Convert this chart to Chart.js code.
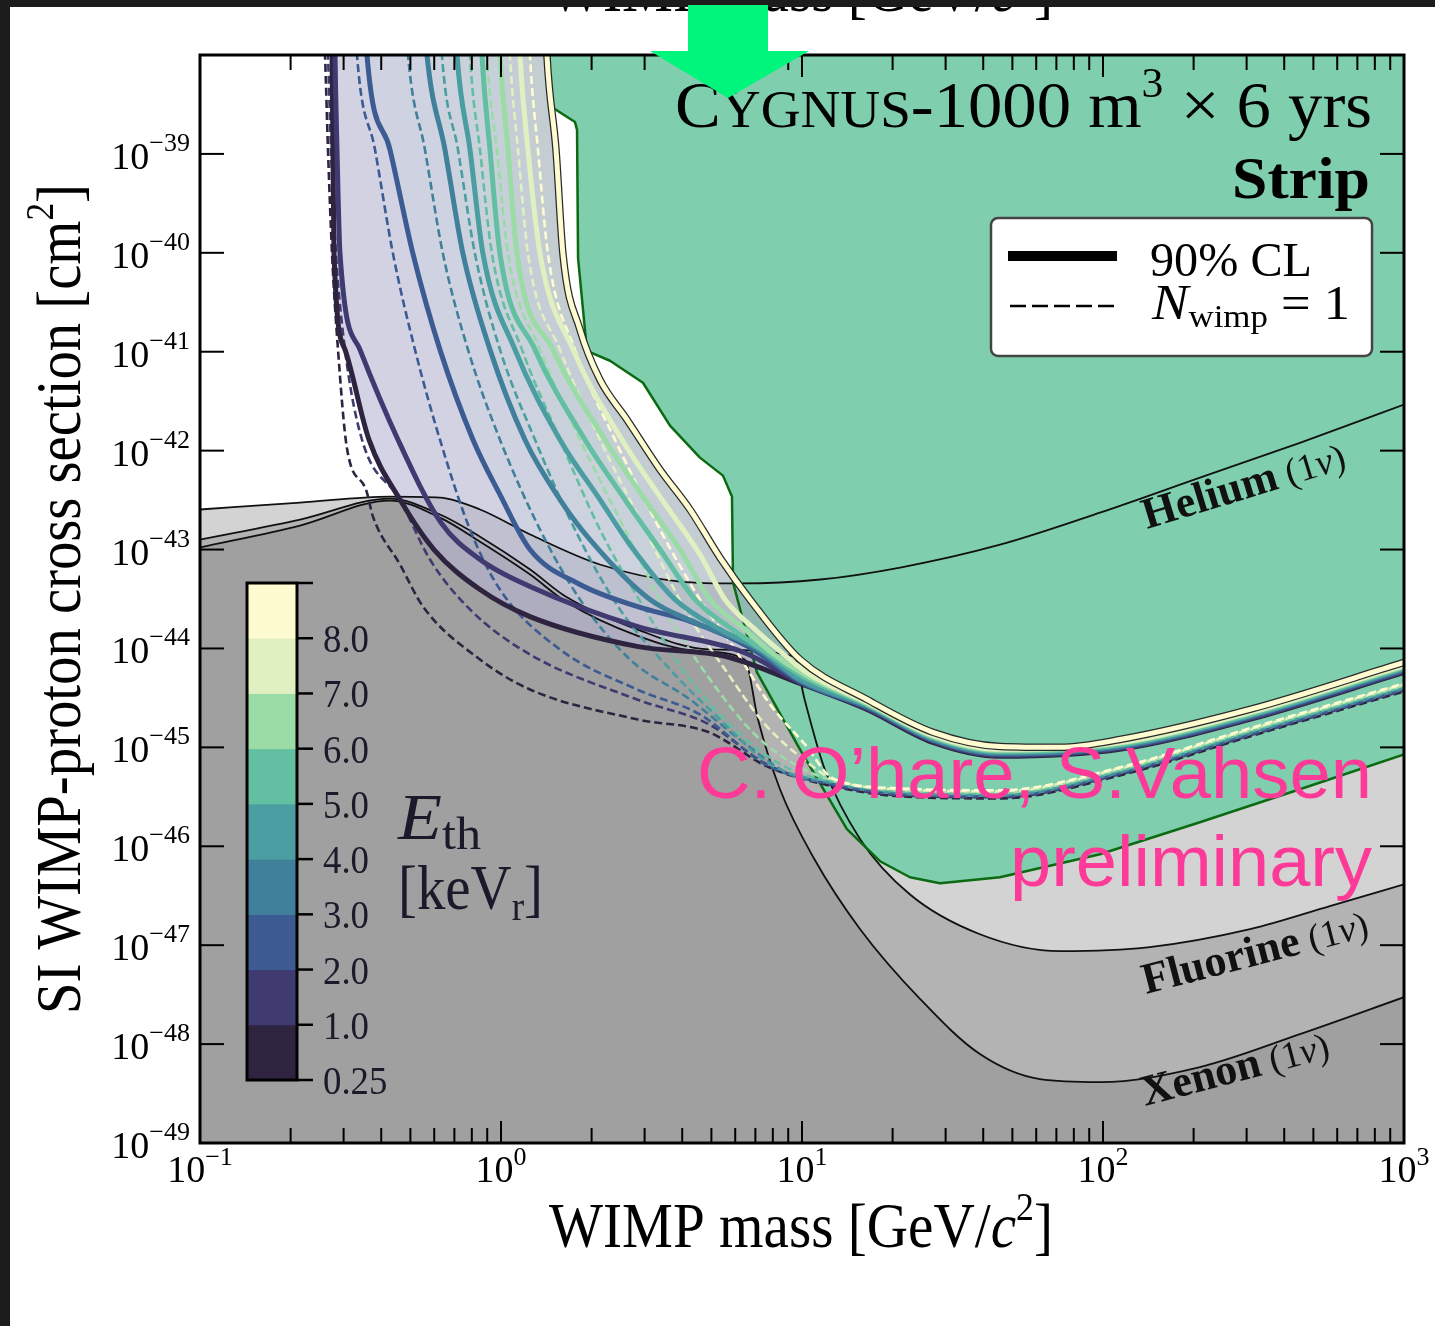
<!DOCTYPE html>
<html>
<head>
<meta charset="utf-8">
<title>CYGNUS-1000 SI WIMP sensitivity</title>
<script src="https://cdn.jsdelivr.net/npm/chart.js@4.4.0/dist/chart.umd.min.js"></script>
<style>
  html, body { margin: 0; padding: 0; background: #fff; }
  #wrap { position: relative; width: 1435px; height: 1326px; overflow: hidden; }
  canvas { display: block; }
</style>
</head>
<body>
<div id="wrap"><canvas id="limitChart" width="1435" height="1326"></canvas></div>
<script>
// ---- values: [WIMP mass GeV/c^2, cross section cm^2] ----
const heliumFloor = [[0.1,2.54e-43],[0.215,2.98e-43],[0.428,3.43e-43],[0.627,3.35e-43],[0.852,2.54e-43],[1.25,1.42e-43],[2.13,7.06e-44],[3.93,4.75e-44],[6.22,4.54e-44],[11.5,4.98e-44],[21.2,6.58e-44],[45.5,1.12e-43],[97.7,2.36e-43],[210,5.34e-43],[451,1.20e-42],[1000,2.92e-42]];
const fluorineFloor = [[0.1,1.26e-43],[0.215,2.01e-43],[0.428,3.27e-43],[0.627,2.26e-43],[0.852,1.35e-43],[1.25,6.28e-44],[1.64,3.35e-44],[2.83,1.56e-44],[4.91,9.77e-45],[9.40,8.30e-45],[10.2,3.05e-45],[11.9,6.0e-46],[15.6,1.18e-46],[22.8,3.27e-47],[39.0,1.29e-47],[71.9,8.70e-48],[143,9.55e-48],[308,1.45e-47],[567,2.48e-47],[1000,4.13e-47]];
const xenonFloor = [[0.1,1.05e-43],[0.215,1.75e-43],[0.428,3.13e-43],[0.627,2.10e-43],[0.852,1.20e-43],[1.25,5.59e-44],[1.64,2.98e-44],[2.83,1.35e-44],[4.58,9.33e-45],[6.46,7.74e-45],[7.14,1.92e-45],[8.45,3.77e-46],[11.0,7.39e-47],[15.6,1.45e-47],[24.7,2.85e-48],[39.0,7.93e-49],[61.7,4.43e-49],[97.7,4.13e-49],[210,5.86e-49],[451,1.26e-48],[1000,2.98e-48]];
const cygnusRegion = [[1.435,1.0e-38],[1.455,3.05e-39],[1.761,2.10e-39],[1.789,1.75e-39],[1.803,8.90e-41],[1.930,1.02e-41],[2.302,8.11e-42],[2.962,4.86e-42],[3.643,1.79e-42],[4.581,8.50e-43],[5.463,5.59e-43],[5.852,3.43e-43],[5.90,4.64e-44],[7.085,5.72e-45],[9.845,9.55e-46],[14.10,1.49e-46],[18.16,7.06e-47],[22.84,4.86e-47],[28.73,4.23e-47],[45.46,4.86e-47],[97.68,8.30e-47],[209.9,1.75e-46],[451,3.77e-46],[1000,8.50e-46]];

// 90% CL limits, one per threshold (first point is the off-scale rise above the plot)
const cl025 = [[0.25,1e-33],[0.2723,1e-37],[0.2746,1e-38],[0.2766,1.10e-39],[0.2787,9.77e-41],[0.3032,1.05e-41],[0.3642,1.29e-42],[0.4618,3.20e-43],[0.5987,1.00e-43],[0.8516,3.94e-44],[1.248,2.10e-44],[2.829,1.05e-44],[5.590,8.30e-45],[9.845,4.43e-45],[16.44,2.42e-45],[27.23,1.12e-45],[45.46,8.11e-46],[113.8,9.55e-46],[307.6,1.92e-45],[1000,5.72e-45]];
const cl1 = [[0.25,1e-33],[0.2787,1e-37],[0.2809,1e-38],[0.2852,1.10e-39],[0.2918,9.77e-41],[0.3400,1.05e-41],[0.4548,1.29e-42],[0.6317,1.87e-43],[0.8516,7.93e-44],[1.248,4.23e-44],[2.829,1.67e-44],[6.415,9.11e-45],[9.845,4.54e-45],[16.44,2.48e-45],[27.23,1.15e-45],[45.46,8.30e-46],[113.8,9.77e-46],[307.6,1.96e-45],[1000,5.86e-45]];
const cl2 = [[0.25,1e-33],[0.3453,1e-37],[0.3587,1e-38],[0.4278,1.10e-39],[0.5100,9.77e-41],[0.6269,1.05e-41],[0.8071,1.29e-42],[0.9922,3.59e-43],[1.248,1.00e-43],[1.830,4.43e-44],[2.829,2.66e-44],[4.277,1.87e-44],[6.716,1.02e-44],[9.845,4.64e-45],[16.44,2.54e-45],[27.23,1.18e-45],[45.46,8.50e-46],[113.8,1.00e-45],[307.6,2.01e-45],[1000,6.00e-45]];
const cl3 = [[0.25,1e-33],[0.5379,1e-37],[0.5676,1e-38],[0.6514,1.10e-39],[0.7477,9.77e-41],[0.9192,1.05e-41],[1.201,1.29e-42],[1.570,3.20e-43],[1.975,1.26e-43],[3.125,3.13e-44],[4.581,1.75e-44],[6.978,1.02e-44],[9.845,4.75e-45],[16.44,2.60e-45],[27.23,1.20e-45],[45.46,8.70e-46],[113.8,1.02e-45],[307.6,2.06e-45],[1000,6.14e-45]];
const cl4 = [[0.25,1e-33],[0.6873,1e-37],[0.7143,1e-38],[0.7889,1.10e-39],[0.8712,9.77e-41],[1.113,1.05e-41],[1.570,1.29e-42],[2.132,3.20e-43],[2.682,1.12e-43],[3.784,3.13e-44],[5.339,1.56e-44],[7.252,9.77e-45],[9.845,4.86e-45],[16.44,2.66e-45],[27.23,1.23e-45],[45.46,8.90e-46],[113.8,1.05e-45],[307.6,2.10e-45],[1000,6.28e-45]];
const cl5 = [[0.25,1e-33],[0.8386,1e-37],[0.8646,1e-38],[0.9192,1.10e-39],[0.9922,9.77e-41],[1.297,1.05e-41],[1.901,1.29e-42],[2.582,3.20e-43],[3.375,1.00e-43],[4.410,3.13e-44],[5.990,1.49e-44],[7.535,9.33e-45],[10.07,5.21e-45],[16.44,2.72e-45],[27.23,1.26e-45],[45.46,9.11e-46],[113.8,1.07e-45],[307.6,2.15e-45],[1000,6.43e-45]];
const cl6 = [[0.25,1e-33],[0.9623,1e-37],[0.9922,1e-38],[1.055,1.10e-39],[1.130,9.77e-41],[1.488,1.05e-41],[2.215,1.29e-42],[3.009,3.20e-43],[3.932,1.00e-43],[4.947,3.13e-44],[6.464,1.56e-44],[7.829,9.33e-45],[10.31,5.34e-45],[16.44,2.78e-45],[27.23,1.29e-45],[45.46,9.33e-46],[113.8,1.10e-45],[307.6,2.21e-45],[1000,6.58e-45]];
const cl7 = [[0.25,1e-33],[1.121,1e-37],[1.156,1e-38],[1.229,1.10e-39],[1.348,9.77e-41],[1.735,1.05e-41],[2.523,1.29e-42],[3.427,3.20e-43],[4.581,8.90e-44],[5.548,3.13e-44],[6.978,1.56e-44],[8.320,9.77e-45],[10.47,5.59e-45],[16.44,2.85e-45],[27.23,1.32e-45],[45.46,9.55e-46],[113.8,1.12e-45],[307.6,2.26e-45],[1000,6.73e-45]];
const cl8 = [[0.25,1e-33],[1.379,1e-37],[1.421,1e-38],[1.523,1.10e-39],[1.606,9.77e-41],[1.830,1.67e-41],[2.132,5.21e-42],[2.621,2.06e-42],[3.375,6.43e-43],[4.245,2.54e-43],[5.339,8.30e-44],[6.716,3.13e-44],[9.845,7.74e-45],[16.44,3.05e-45],[27.23,1.42e-45],[45.46,1.02e-45],[71.93,1.00e-45],[113.8,1.20e-45],[307.6,2.42e-45],[1000,7.22e-45]];

// N_wimp = 1 curves
const n025 = [[0.2504,1e-37],[0.2602,1e-38],[0.2662,1.10e-39],[0.2746,9.77e-41],[0.2874,1.05e-41],[0.3079,1.05e-42],[0.3560,4.04e-43],[0.3756,2.15e-43],[0.4618,7.06e-44],[0.5504,2.66e-44],[0.8516,7.74e-45],[1.248,3.85e-45],[2.829,1.92e-45],[4.909,1.42e-45],[7.651,6.43e-46],[12.67,4.04e-46],[21.16,3.20e-46],[45.46,3.05e-46],[113.8,5.21e-46],[307.6,1.29e-45],[1000,3.68e-45]];
const n1 = [[0.2562,1e-37],[0.2662,1e-38],[0.2723,1.10e-39],[0.2830,9.77e-41],[0.3032,1.05e-41],[0.3453,1.29e-42],[0.4618,3.20e-43],[0.5808,7.93e-44],[0.7889,2.48e-44],[1.248,8.70e-45],[2.829,3.05e-45],[4.909,1.71e-45],[7.651,6.73e-46],[12.67,4.13e-46],[21.16,3.27e-46],[45.46,3.13e-46],[113.8,5.34e-46],[307.6,1.32e-45],[1000,3.77e-45]];
const n2 = [[0.3198,1e-37],[0.3323,1e-38],[0.3815,1.10e-39],[0.4377,9.77e-41],[0.5178,1.05e-41],[0.6269,1.29e-42],[0.7889,1.59e-43],[0.9922,3.94e-44],[1.570,9.77e-45],[2.829,3.85e-45],[4.581,2.15e-45],[7.651,6.58e-46],[12.67,4.23e-46],[21.16,3.35e-46],[45.46,3.20e-46],[113.8,5.46e-46],[307.6,1.35e-45],[1000,3.85e-45]];
const n3 = [[0.4688,1e-37],[0.4909,1e-38],[0.5590,1.10e-39],[0.6414,9.77e-41],[0.7768,1.05e-41],[0.9922,1.29e-42],[1.348,1.59e-43],[1.830,3.13e-44],[2.682,7.74e-45],[4.245,3.05e-45],[6.222,1.20e-45],[9.120,5.34e-46],[12.67,4.33e-46],[21.16,3.43e-46],[45.46,3.27e-46],[113.8,5.59e-46],[307.6,1.39e-45],[1000,3.94e-45]];
const n4 = [[0.6128,1e-37],[0.6365,1e-38],[0.7197,1.10e-39],[0.8196,9.77e-41],[0.9922,1.05e-41],[1.297,1.29e-42],[1.761,1.59e-43],[2.485,2.48e-44],[3.643,6.14e-45],[5.339,1.92e-45],[7.829,6.73e-46],[12.67,4.43e-46],[21.16,3.51e-46],[45.46,3.35e-46],[113.8,5.72e-46],[307.6,1.42e-45],[1000,4.04e-45]];
const n5 = [[0.7650,1e-37],[0.7889,1e-38],[0.8516,1.10e-39],[0.9333,9.77e-41],[1.174,1.05e-41],[1.570,1.29e-42],[2.132,1.59e-43],[3.009,2.48e-44],[4.245,4.86e-45],[6.222,1.35e-45],[9.120,6.00e-46],[12.67,4.54e-46],[21.16,3.59e-46],[45.46,3.43e-46],[113.8,5.86e-46],[307.6,1.45e-45],[1000,4.13e-45]];
const n6 = [[0.8712,1e-37],[0.8981,1e-38],[0.9696,1.10e-39],[1.055,9.77e-41],[1.348,1.05e-41],[1.830,1.29e-42],[2.582,1.59e-43],[3.506,2.48e-44],[4.947,4.86e-45],[6.978,1.35e-45],[9.845,6.28e-46],[12.67,4.64e-46],[21.16,3.68e-46],[45.46,3.51e-46],[113.8,6.00e-46],[307.6,1.49e-45],[1000,4.23e-45]];
const n7 = [[1.039,1e-37],[1.071,1e-38],[1.139,1.10e-39],[1.229,9.77e-41],[1.570,1.05e-41],[2.132,1.29e-42],[3.009,1.59e-43],[4.085,2.48e-44],[5.548,6.14e-45],[7.535,1.71e-45],[10.63,6.73e-46],[12.67,4.75e-46],[21.16,3.77e-46],[45.46,3.59e-46],[113.8,6.14e-46],[307.6,1.52e-45],[1000,4.33e-45]];
const n8 = [[1.211,1e-37],[1.248,1e-38],[1.327,1.10e-39],[1.432,9.77e-41],[1.761,1.05e-41],[2.391,1.29e-42],[3.375,1.59e-43],[4.581,3.13e-44],[5.990,9.77e-45],[7.829,2.72e-45],[10.23,1.07e-45],[12.67,4.86e-46],[21.16,3.85e-46],[45.46,3.68e-46],[113.8,6.28e-46],[307.6,1.56e-45],[1000,4.43e-45]];

const thresholds = [0.25, 1, 2, 3, 4, 5, 6, 7, 8];            // keV_r
const cbarLabels = ['0.25', '1.0', '2.0', '3.0', '4.0', '5.0', '6.0', '7.0', '8.0'];
const xTickExps = [-1, 0, 1, 2, 3];
const yTickExps = [-39, -40, -41, -42, -43, -44, -45, -46, -47, -48, -49];

const clCurves = [cl025, cl1, cl2, cl3, cl4, cl5, cl6, cl7, cl8];
const nCurves = [n025, n1, n2, n3, n4, n5, n6, n7, n8];

// ---- styles ----
const thresholdColors = ['#2e2440', '#3f3a70', '#3b5b92', '#41809b', '#4a9da0', '#62bfa2', '#9bdba5', '#e0f0c0', '#fffbd0'];
const bandFills = [null, 'rgba(183,180,212,0.6)', 'rgba(180,180,208,0.6)', 'rgba(175,180,205,0.6)', 'rgba(170,180,200,0.6)',
                   'rgba(165,178,195,0.6)', 'rgba(160,176,190,0.6)', 'rgba(158,174,186,0.6)', 'rgba(155,172,180,0.6)'];
const SERIF = '"Liberation Serif", "DejaVu Serif", serif';
const SANS = '"Liberation Sans", Arial, sans-serif';

// ---- datasets, pushed bottom layer first ----
const datasets = [];
function addSet(d) {
    d.order = -datasets.length;   // later sets are drawn on top
    datasets.push(d);
    return datasets.length - 1;
}

addSet({ data: heliumFloor, borderColor: '#111', borderWidth: 1.8, fill: 'start', backgroundColor: '#d3d3d3', cubicInterpolationMode: 'monotone' });
addSet({ data: fluorineFloor, borderColor: '#111', borderWidth: 1.8, fill: 'start', backgroundColor: '#b3b3b3', cubicInterpolationMode: 'monotone' });
addSet({ data: xenonFloor, borderColor: '#111', borderWidth: 1.8, fill: 'start', backgroundColor: '#a0a0a0', cubicInterpolationMode: 'monotone' });
addSet({ data: cygnusRegion, borderColor: '#0b6a12', borderWidth: 2.5, fill: 'end', backgroundColor: '#7fceae' });

nCurves.forEach((d, i) => {
    addSet({ data: d, borderColor: thresholdColors[i], borderWidth: 2.6, borderDash: [8, 4], fill: false, cubicInterpolationMode: 'monotone' });
});

let prevIdx = -1;
clCurves.forEach((d, i) => {
    if (i === clCurves.length - 1) {
        // dark edge under the light 8 keV line
        addSet({ data: d, borderColor: '#2a2a2a', borderWidth: 7.5, fill: false, cubicInterpolationMode: 'monotone' });
    }
    const fill = prevIdx >= 0 ? { target: prevIdx, above: bandFills[i], below: bandFills[i] } : false;
    prevIdx = addSet({ data: d, borderColor: thresholdColors[i], borderWidth: 5, fill: fill, cubicInterpolationMode: 'monotone' });
});

// ---- text helpers ----
function fontOf(p) {
    return (p[2] ? p[2] + ' ' : '') + p[1] + 'px ' + (p[4] || SERIF);
}
function measureParts(ctx, parts) {
    let w = 0;
    parts.forEach(p => { ctx.font = fontOf(p); w += ctx.measureText(p[0]).width; });
    return w;
}
function drawParts(ctx, parts, x, y) {
    let cx = x;
    parts.forEach(p => {
        ctx.font = fontOf(p);
        ctx.fillText(p[0], cx, y + (p[3] || 0));
        cx += ctx.measureText(p[0]).width;
    });
}
function fitParts(ctx, parts, x0, x1, y) {
    const w = measureParts(ctx, parts);
    ctx.save();
    ctx.translate(x0, y);
    ctx.scale((x1 - x0) / w, 1);
    drawParts(ctx, parts, 0, 0);
    ctx.restore();
}
function rotParts(ctx, parts, x, y, deg) {
    ctx.save();
    ctx.translate(x, y);
    ctx.rotate(deg * Math.PI / 180);
    drawParts(ctx, parts, 0, 0);
    ctx.restore();
}
function expText(e) {
    return e < 0 ? '\u2212' + (-e) : String(e);
}

// ---- axes, labels and annotations ----
const decor = {
    id: 'decor',
    afterDraw(chart) {
        const ctx = chart.ctx, a = chart.chartArea;
        const xs = chart.scales.x, ys = chart.scales.y;
        const seg = (x1, y1, x2, y2) => { ctx.beginPath(); ctx.moveTo(x1, y1); ctx.lineTo(x2, y2); ctx.stroke(); };
        ctx.save();
        ctx.textAlign = 'left';
        ctx.textBaseline = 'alphabetic';
        ctx.fillStyle = '#000';
        ctx.strokeStyle = '#000';

        // x ticks (inside, bottom and top)
        ctx.lineWidth = 2;
        xTickExps.forEach((e, i) => {
            const base = Math.pow(10, e);
            const px = xs.getPixelForValue(base);
            seg(px, a.bottom, px, a.bottom - 22);
            seg(px, a.top, px, a.top + 22);
            if (i < xTickExps.length - 1) {
                for (let k = 2; k <= 9; k++) {
                    const mx = xs.getPixelForValue(base * k);
                    seg(mx, a.bottom, mx, a.bottom - 15);
                    seg(mx, a.top, mx, a.top + 15);
                }
            }
            const parts = [['10', 38], [expText(e), 26, '', -17]];
            const w = measureParts(ctx, parts);
            drawParts(ctx, parts, px - w / 2, a.bottom + 39);
        });

        // y ticks (inside, left and right)
        yTickExps.forEach(e => {
            const py = ys.getPixelForValue(Math.pow(10, e));
            seg(a.left, py, a.left + 24, py);
            seg(a.right, py, a.right - 24, py);
            const parts = [['10', 38], [expText(e), 26, '', -18]];
            const w = measureParts(ctx, parts);
            drawParts(ctx, parts, 190 - w, py + 15);
        });

        // frame
        ctx.lineWidth = 3;
        ctx.strokeRect(a.left, a.top, a.right - a.left, a.bottom - a.top);

        // axis titles
        fitParts(ctx, [['WIMP mass [GeV/', 64], ['c', 64, 'italic'], ['2', 40, '', -27], [']', 64]], 549, 1053, 1247);
        fitParts(ctx, [['WIMP mass [GeV/', 64], ['c', 64, 'italic'], ['2', 40, '', -27], [']', 64]], 549, 1053, 11);
        ctx.save();
        ctx.translate(80, 1014);
        ctx.rotate(-Math.PI / 2);
        fitParts(ctx, [['SI WIMP-proton cross section [cm', 64], ['2', 40, '', -27], [']', 64]], 0, 830, 0);
        ctx.restore();

        // experiment label
        fitParts(ctx, [['C', 66], ['YGNUS', 53], ['-1000 m', 66], ['3', 42, '', -30], [' \u00d7 6 yrs', 66]], 675, 1372, 127);
        fitParts(ctx, [['Strip', 60, 'bold']], 1232, 1370, 198);

        // legend
        ctx.beginPath();
        ctx.roundRect(991, 218, 381, 138, 7);
        ctx.fillStyle = '#fff';
        ctx.fill();
        ctx.lineWidth = 2.5;
        ctx.strokeStyle = '#444';
        ctx.stroke();
        ctx.strokeStyle = '#000';
        ctx.lineWidth = 10;
        seg(1008, 256, 1117, 256);
        ctx.lineWidth = 2.5;
        ctx.setLineDash([16, 6]);
        seg(1010, 306, 1116, 306);
        ctx.setLineDash([]);
        ctx.fillStyle = '#000';
        fitParts(ctx, [['90% CL', 48]], 1150, 1312, 276);
        fitParts(ctx, [['N', 50, 'italic'], ['wimp', 32, '', 8], [' = 1', 48]], 1152, 1350, 319);

        // neutrino floor labels
        ctx.fillStyle = '#111';
        const nu = [' (1', 38], nuSym = ['\u03bd', 38, 'italic'], close = [')', 38];
        rotParts(ctx, [['Helium', 44, 'bold'], nu, nuSym, close], 1147, 529, -17);
        rotParts(ctx, [['Fluorine', 44, 'bold'], nu, nuSym, close], 1146, 994, -14.5);
        rotParts(ctx, [['Xenon', 44, 'bold'], nu, nuSym, close], 1145, 1106, -14.7);

        // threshold colour bar
        const cbX = 247, cbW = 50, cbTop = 583, cbBot = 1080;
        const h = (cbBot - cbTop) / thresholds.length;
        thresholds.forEach((t, i) => {
            ctx.fillStyle = thresholdColors[i];
            ctx.fillRect(cbX, cbBot - (i + 1) * h, cbW, h + 0.5);
        });
        ctx.lineWidth = 3;
        ctx.strokeStyle = '#000';
        ctx.strokeRect(cbX, cbTop, cbW, cbBot - cbTop);
        ctx.lineWidth = 2.5;
        ctx.fillStyle = '#1a1a2a';
        for (let i = 0; i <= thresholds.length; i++) {
            const ty = cbBot - i * h;
            seg(cbX + cbW, ty, cbX + cbW + 16, ty);
            if (i < cbarLabels.length) {
                const parts = [[cbarLabels[i], 40]];
                const w = measureParts(ctx, parts);
                fitParts(ctx, parts, 323, 323 + w * 0.92, ty + 14);
            }
        }
        fitParts(ctx, [['E', 66, 'italic'], ['th', 46, '', 10]], 398, 481, 839);
        fitParts(ctx, [['[keV', 64], ['r', 42, '', 11], [']', 64]], 398, 543, 909);

        // preliminary stamp
        ctx.fillStyle = '#fd3a97';
        fitParts(ctx, [['C. O\u2019hare, S.Vahsen', 72, '', 0, SANS]], 697, 1372, 798);
        fitParts(ctx, [['preliminary', 72, '', 0, SANS]], 1010, 1372, 886);

        // dark slide frame
        ctx.fillStyle = '#1c1c1c';
        ctx.fillRect(0, 0, 1435, 7);
        ctx.fillRect(0, 0, 10, 1326);

        // green arrow
        ctx.fillStyle = '#00f57c';
        ctx.fillRect(688, 5, 80, 47);
        ctx.beginPath();
        ctx.moveTo(650, 51);
        ctx.lineTo(809, 51);
        ctx.lineTo(728, 98);
        ctx.closePath();
        ctx.fill();
        ctx.restore();
    }
};

new Chart(document.getElementById('limitChart'), {
    type: 'line',
    data: { datasets: datasets },
    options: {
        responsive: false,
        animation: false,
        devicePixelRatio: 1,
        events: [],
        layout: { padding: { left: 200, top: 55, right: 31, bottom: 183 } },
        elements: { point: { radius: 0 }, line: { borderJoinStyle: 'round' } },
        scales: {
            x: { type: 'logarithmic', min: 0.1, max: 1000, display: false },
            y: { type: 'logarithmic', min: 1e-49, max: 1e-38, display: false }
        },
        plugins: {
            legend: { display: false },
            tooltip: { enabled: false },
            filler: { drawTime: 'beforeDatasetsDraw', propagate: false }
        }
    },
    plugins: [decor]
});
</script>
</body>
</html>
